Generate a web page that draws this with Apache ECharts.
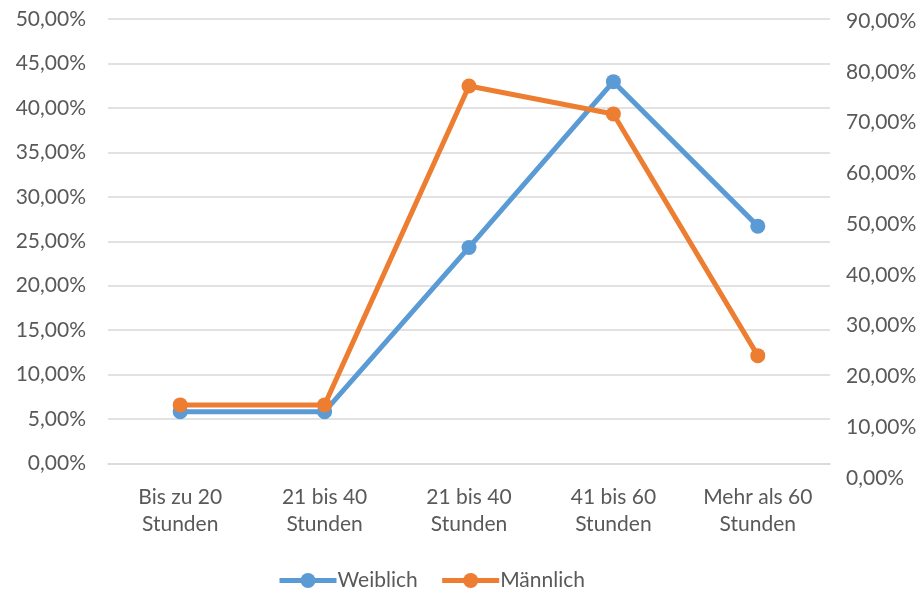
<!DOCTYPE html>
<html>
<head>
<meta charset="utf-8">
<script src="https://cdn.jsdelivr.net/npm/echarts@6/dist/echarts.min.js"></script>
<style>html,body{margin:0;padding:0;background:#fff}#c{width:923px;height:592px}</style>
</head>
<body>
<div id="c"></div>
<script>
var categories = ['Bis zu 20\nStunden', '21 bis 40\nStunden', '21 bis 40\nStunden', '41 bis 60\nStunden', 'Mehr als 60\nStunden'];
var weiblich = [5.83, 5.83, 24.3, 42.95, 26.7];
var maennlich = [14.4, 14.4, 77.2, 71.7, 24.1];
var seriesNames = ['Weiblich', 'Männlich'];
var leftTicks = {min: 0, max: 50, interval: 5};
var rightTicks = {min: 0, max: 90, interval: 10};

function pct(v){ return v.toFixed(2).replace('.', ',') + '%'; }
var font = 'Lato';
var txt = '#595959';
var chart = echarts.init(document.getElementById('c'), null, {renderer: 'canvas'});
chart.setOption({
  animation: false,
  backgroundColor: '#fff',
  grid: [
    {left: 108, right: 93, top: 19, bottom: 128.5},
    {left: 108, right: 93, top: 21, bottom: 114}
  ],
  legend: {
    data: seriesNames,
    left: 272, top: 565,
    itemWidth: 57, itemHeight: 19, itemGap: 22,
    lineStyle: {width: 5},
    textStyle: {fontFamily: font, fontSize: 21, color: txt, padding: [0,0,0,-4]}
  },
  xAxis: [
    {type: 'category', gridIndex: 0, data: categories, boundaryGap: true,
     axisLine: {lineStyle: {color: '#D9D9D9', width: 1.5}},
     axisTick: {show: false},
     axisLabel: {fontFamily: font, fontSize: 21, color: txt, lineHeight: 27, margin: 20, interval: 0}},
    {type: 'category', gridIndex: 1, data: categories, boundaryGap: true, show: false}
  ],
  yAxis: [
    {type: 'value', gridIndex: 0, position: 'left', min: leftTicks.min, max: leftTicks.max, interval: leftTicks.interval,
     axisLine: {show: false}, axisTick: {show: false},
     splitLine: {lineStyle: {color: '#D9D9D9', width: 1.5}},
     axisLabel: {fontFamily: font, fontSize: 21, color: txt, margin: 22, formatter: pct}},
    {type: 'value', gridIndex: 1, position: 'right', min: rightTicks.min, max: rightTicks.max, interval: rightTicks.interval,
     axisLine: {show: false}, axisTick: {show: false}, splitLine: {show: false},
     axisLabel: {fontFamily: font, fontSize: 21, color: txt, margin: 16, formatter: pct}}
  ],
  series: [
    {name: seriesNames[0], type: 'line', xAxisIndex: 0, yAxisIndex: 0, data: weiblich,
     symbol: 'circle', symbolSize: 15, color: '#5B9BD5',
     lineStyle: {width: 5, color: '#5B9BD5'}, itemStyle: {color: '#5B9BD5'}, z: 2},
    {name: seriesNames[1], type: 'line', xAxisIndex: 1, yAxisIndex: 1, data: maennlich,
     symbol: 'circle', symbolSize: 15, color: '#ED7D31',
     lineStyle: {width: 5, color: '#ED7D31'}, itemStyle: {color: '#ED7D31'}, z: 3}
  ]
});
</script>
</body>
</html>
